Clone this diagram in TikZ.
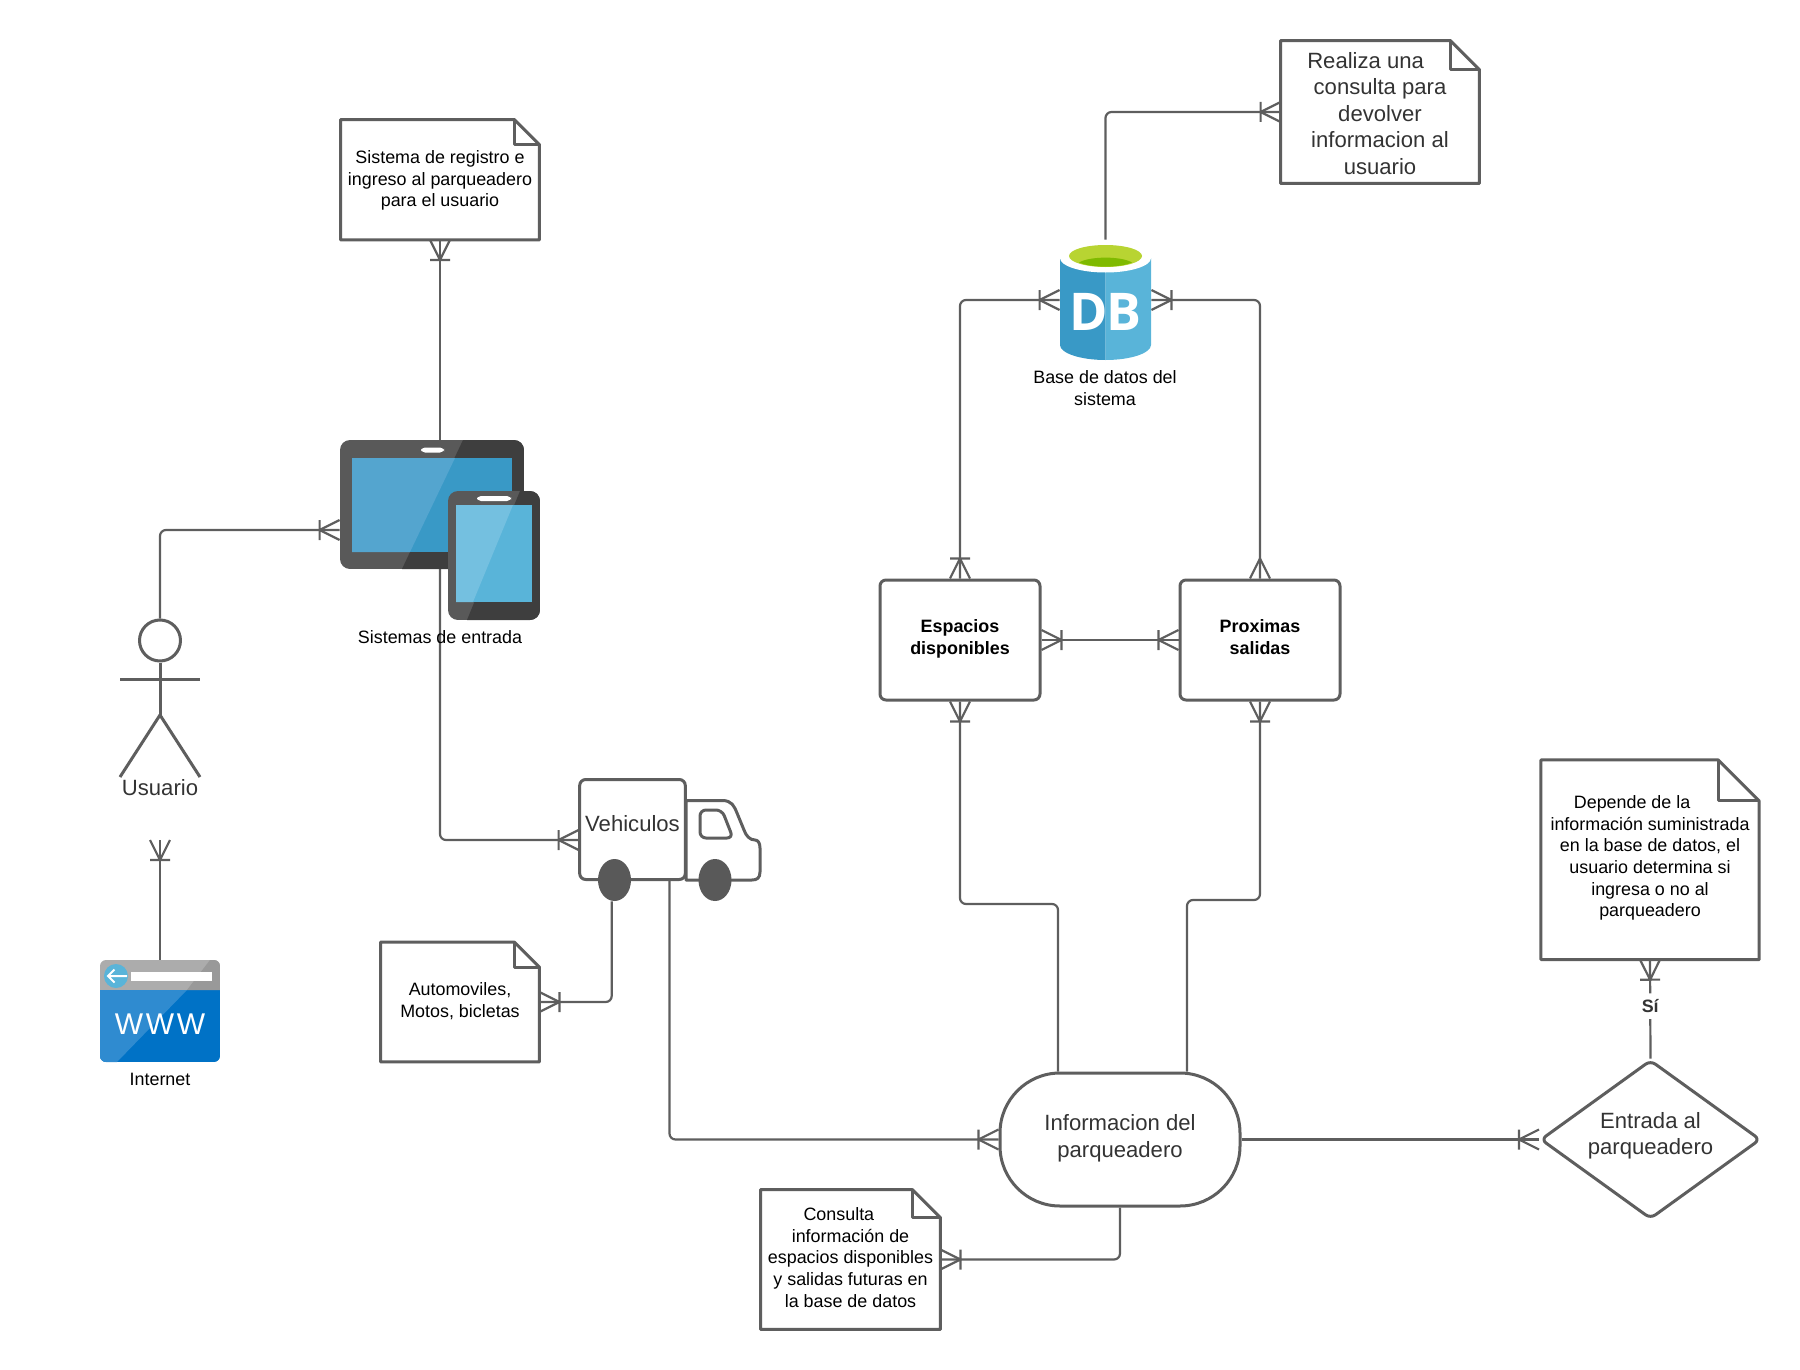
\documentclass[tikz,border=0pt]{standalone}
\usepackage{fontspec}
\setmainfont{Liberation Sans}
\newfontfamily\logofont{Open Sans}
\newfontfamily\wwwfont[LetterSpace=9]{Liberation Sans}
\usetikzlibrary{shapes.geometric}
\definecolor{linegrey}{HTML}{5E5E5E}
\definecolor{bodygrey}{HTML}{595959}
\definecolor{bodydark}{HTML}{3E3E3E}
\definecolor{inkgrey}{HTML}{333333}
\definecolor{bluedark}{HTML}{3999C6}
\definecolor{bluemid}{HTML}{59B4D9}
\definecolor{bluesoft}{HTML}{54A5CF}
\definecolor{bluepale}{HTML}{74C0E0}
\definecolor{webblue}{HTML}{0072C6}
\definecolor{webpale}{HTML}{2F8BD0}
\pgfdeclarelayer{lines}
\pgfsetlayers{lines,main}
\pgfdeclarearrow{
  name=crow,
  setup code={\pgfarrowssettipend{0pt}\pgfarrowssetbackend{-10pt}\pgfarrowssetlineend{0pt}\pgfarrowssetvisualbackend{-10pt}},
  drawing code={
    \pgfsetdash{}{0pt}
    \pgfpathmoveto{\pgfqpoint{0pt}{5pt}}
    \pgfpathlineto{\pgfqpoint{-10pt}{0pt}}
    \pgfpathlineto{\pgfqpoint{0pt}{-5pt}}
    \pgfusepathqstroke
  }
}
\pgfdeclarearrow{
  name=crowbar,
  setup code={\pgfarrowssettipend{0pt}\pgfarrowssetbackend{-10pt}\pgfarrowssetlineend{0pt}\pgfarrowssetvisualbackend{-10pt}},
  drawing code={
    \pgfsetdash{}{0pt}
    \pgfpathmoveto{\pgfqpoint{0pt}{5pt}}
    \pgfpathlineto{\pgfqpoint{-10pt}{0pt}}
    \pgfpathlineto{\pgfqpoint{0pt}{-5pt}}
    \pgfpathmoveto{\pgfqpoint{-10pt}{5pt}}
    \pgfpathlineto{\pgfqpoint{-10pt}{-5pt}}
    \pgfusepathqstroke
  }
}
\tikzset{
  small/.style={font=\fontsize{8.95}{10.85}\selectfont,align=center,inner sep=0pt},
  big/.style={font=\fontsize{11.05}{13.25}\selectfont,text=inkgrey,align=center,inner sep=0pt},
  plate/.style={rectangle,inner sep=0pt},
  shapeline/.style={draw=linegrey,line width=1.5pt,line join=round},
  notebox/.style={plate,fill=white},
  box/.style={plate,shapeline,fill=white,rounded corners=3pt},
  link/.style={draw=linegrey,line width=1.1pt,rounded corners=3pt}
}
\newcommand{\drawnote}[2]{
  \draw [shapeline] (#1.north west) -- ([xshift=-#2]#1.north east) -- ([yshift=-#2]#1.north east)
    -- (#1.south east) -- (#1.south west) -- cycle;
  \draw [shapeline] ([xshift=-#2]#1.north east) |- ([yshift=-#2]#1.north east);
}
\newcommand{\lift}[1]{\rule[-#1]{0pt}{0pt}}
\begin{document}
\begin{tikzpicture}[x=0.5pt,y=-0.5pt]
\useasboundingbox (0,0) rectangle (1800,1370);

% notes
\node (noteSistema)  at (440,179.75)  [notebox,small,minimum width=99pt,minimum height=59.75pt] {\rule{0pt}{7.4pt}Sistema de registro e\\ingreso al parqueadero\\para el usuario};
\node (noteRealiza)  at (1380,112)    [notebox,big,minimum width=99pt,minimum height=71pt] {\rule{0pt}{9.2pt}Realiza una\hspace*{1.3em}\\consulta para\\devolver\\informacion al\\usuario};
\node (noteDepende)  at (1650,859.75) [notebox,small,minimum width=108.7pt,minimum height=99.5pt] {Depende de la\hspace*{2em}\\información suministrada\\en la base de datos, el\\usuario determina si\\ingresa o no al\\parqueadero\lift{3.6pt}};
\node (noteConsulta) at (850.5,1259.5) [notebox,small,minimum width=89.5pt,minimum height=69.5pt] {Consulta\hspace*{1.3em}\\información de\\espacios disponibles\\y salidas futuras en\\la base de datos\lift{2.2pt}};
\node (noteAuto)     at (460,1002)    [notebox,small,minimum width=79pt,minimum height=59.5pt] {Automoviles,\\Motos, bicletas\lift{2.2pt}};
\drawnote{noteSistema}{12.5pt}
\drawnote{noteRealiza}{14.5pt}
\drawnote{noteDepende}{20.5pt}
\drawnote{noteConsulta}{14pt}
\drawnote{noteAuto}{12.5pt}

% boxes
\node (espacios) at (960,640)  [box,small,minimum width=80pt,minimum height=60pt] {\bfseries Espacios\\\bfseries disponibles\lift{3.2pt}};
\node (proximas) at (1260,640) [box,small,minimum width=80pt,minimum height=60pt] {\bfseries Proximas\\\bfseries salidas\lift{3.2pt}};
\node (pill)     at (1120,1139.5) [plate,shapeline,big,fill=white,minimum width=120pt,minimum height=66.5pt,rounded corners=30pt] {Informacion del\\parqueadero\lift{3.4pt}};
\node (entrada)  at (1650.5,1139.5) [diamond,shapeline,big,fill=white,aspect=1.39,minimum width=110pt,minimum height=79.5pt,rounded corners=3pt] {Entrada al\\parqueadero\lift{6pt}};

% usuario
\node (head) at (160,640.5) [circle,shapeline,inner sep=0pt,minimum size=20.5pt] {};
\coordinate (hip) at (160,715);
\draw [shapeline] (head.south) -- (hip);
\draw [shapeline] (120,679) -- (200,679);
\draw [shapeline] (120,777) -- (hip) -- (200,777);
\node (usuario) at (160,788) [big] {Usuario};

% tablet y telefono
\node (devices) at (440,530) [plate,minimum width=100pt,minimum height=90pt] {};
\begin{scope}
\clip [rounded corners=5pt] (340,440) rectangle (524,569);
\fill [bodygrey] (340,440) rectangle (524,569);
\fill [bodydark] (463,440) -- (524,440) -- (524,569) -- (402,569) -- cycle;
\end{scope}
\fill [bluedark] (352,458) rectangle (512,552);
\fill [bluesoft] (352,458) -- (455,458) -- (410,552) -- (352,552) -- cycle;
\fill [white,rounded corners=2pt] (421,447.5) rectangle (444,452.5);
\begin{scope}
\clip [rounded corners=5pt] (448,491) rectangle (540,620);
\fill [bodygrey] (448,491) rectangle (540,620);
\fill [bodydark] (520,491) -- (540,491) -- (540,620) -- (467,620) -- cycle;
\end{scope}
\fill [bluemid] (456,505) rectangle (532,602);
\fill [bluepale] (456,505) -- (513,505) -- (473,602) -- (456,602) -- cycle;
\fill [white,rounded corners=2pt] (477,496) rectangle (511,501);
\node (devicesLabel) at (440,637) [small] {Sistemas de entrada};

% base de datos
\node (db) at (1105.5,300) [plate,minimum width=45.5pt,minimum height=60pt] {};
\fill [bluedark] (1060,258) -- (1060,345) .. controls (1060,353) and (1080,360) .. (1105.5,360) -- (1105.5,258) -- cycle;
\fill [bluemid] (1151,258) -- (1151,345) .. controls (1151,353) and (1131,360) .. (1105.5,360) -- (1105.5,258) -- cycle;
\fill [white] (1105.5,258) ellipse [x radius=45.5,y radius=14.5];
\fill [color={rgb,255:red,184;green,212;blue,50}] (1105.5,256) ellipse [x radius=36.5,y radius=11];
\fill [color={rgb,255:red,127;green,186;blue,0}] (1079,262.5) .. controls (1090,256) and (1121,256) .. (1132,262.5) .. controls (1120,268) and (1091,268) .. (1079,262.5) -- cycle;
\node (dbLogo) at (1105.5,311.5) [inner sep=0pt,text=white,font=\logofont\bfseries\fontsize{26}{26}\selectfont] {D\kern-1pt B};
\node (dbLabel) at (1105,388) [small] {Base de datos del\\sistema};

% internet
\node (www) at (160,1011) [plate,minimum width=60pt,minimum height=51pt] {};
\begin{scope}
\clip [rounded corners=3pt] (100,960) rectangle (220,1062);
\fill [webblue] (100,990) rectangle (220,1062);
\fill [webpale] (100,990) -- (187,990) -- (117,1062) -- (100,1062) -- cycle;
\fill [gray!65] (100,960) rectangle (220,990);
\fill [gray!80] (210,960) -- (220,960) -- (220,990) -- (187,990) -- cycle;
\end{scope}
\fill [bluemid] (116,976) circle [radius=12];
\draw [white,line width=1pt] (114.5,969.5) -- (108,976) -- (114.5,982.5) (108,976) -- (127,976);
\fill [white] (131,972) rectangle (212,981);
\node (wwwText) at (160,1024) [inner sep=0pt,text=white,font=\wwwfont\fontsize{15}{15}\selectfont] {WWW};
\node (wwwLabel) at (160,1079) [small] {Internet};

% camion
\node (truck) at (669.5,840) [plate,minimum width=90.5pt,minimum height=60.5pt] {};
\draw [shapeline,fill=white] (686,800.5) -- (722,800.5) .. controls (732,800.5) and (734,806) .. (737,813) -- (744,830) .. controls (746,836) and (750,840) .. (755,840) .. controls (758,840) and (760,843) .. (760,848) -- (760,872) .. controls (760,878) and (757,880) .. (752,880) -- (686,880) -- cycle;
\draw [shapeline,rounded corners=3pt] (700,810) -- (722,810) -- (733,838) -- (700,838) -- cycle;
\node (truckBox) at (632.5,829.5) [box,big,minimum width=52.8pt,minimum height=50pt] {Vehiculos\lift{6pt}};
\node (wheelA) at (614.5,880) [ellipse,fill=bodygrey,inner sep=0pt,minimum width=16.5pt,minimum height=21pt] {};
\node (wheelB) at (715,880)   [ellipse,fill=bodygrey,inner sep=0pt,minimum width=16.5pt,minimum height=21pt] {};

% puntos libres
\coordinate (usuarioEnd) at (160,840);
\coordinate (bendLeft)  at (960,904);
\coordinate (bendRight) at (1260,900);

\begin{pgfonlayer}{lines}
\draw [link,-crowbar] (devices.north) to (noteSistema.south);
\draw [link,-crowbar] (head.north) |- (devices.west);
\draw [link,-crowbar] (devices.center) |- (truck.west);
\draw [link,-crowbar] (www.north) to (usuarioEnd);
\draw [link,-crowbar] ([xshift=-1.4pt]wheelA.south) |- (noteAuto.east);
\draw [link,-crowbar] (truck.center) |- (pill.west);
\draw [link,-crowbar] (pill.east) to (entrada.west);
\draw [link,-crowbar] (pill.south) |- (noteConsulta.east);
\draw [link,-crowbar] (entrada.north) to node [pos=0.53,fill=white,inner sep=3pt,font=\fontsize{8.95}{10.85}\selectfont\bfseries,text=inkgrey] (si) {Sí} (noteDepende.south);
\draw [link,-crowbar] ([xshift=-31pt]pill.north) |- (bendLeft) -- (espacios.south);
\draw [link,-crowbar] ([xshift=33.5pt]pill.north) |- (bendRight) -- (proximas.south);
\draw [link,crowbar-crowbar] (espacios.east) to (proximas.west);
\draw [link,crowbar-crowbar] (espacios.north) |- (db.west);
\draw [link,crow-crowbar] (proximas.north) |- (db.east);
\draw [link,-crowbar] (db.north) |- (noteRealiza.west);
\end{pgfonlayer}
\end{tikzpicture}
\end{document}
